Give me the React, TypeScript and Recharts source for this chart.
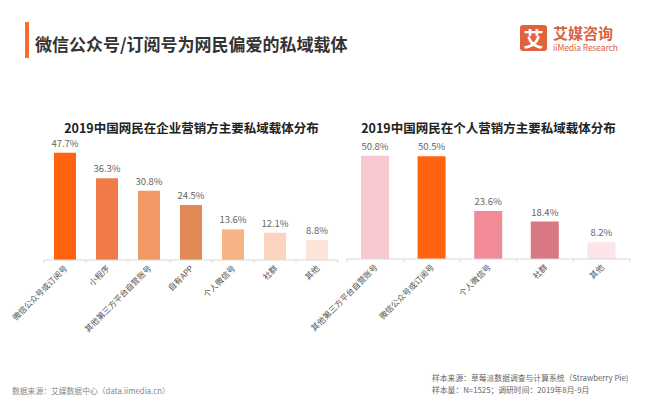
import React from "react";
import { BarChart, Bar, XAxis, YAxis, Cell, LabelList } from "recharts";

const leftCategories = ["微信公众号或订阅号", "小程序", "其他第三方平台自营账号", "自有APP", "个人微信号", "社群", "其他"];
const leftValues = [47.7, 36.3, 30.8, 24.5, 13.6, 12.1, 8.8];
const leftColors = ["#FF630F", "#F07B48", "#F29A66", "#E08A55", "#F7B386", "#FCD3BD", "#FDE4D8"];

const rightCategories = ["其他第三方平台自营账号", "微信公众号或订阅号", "个人微信号", "社群", "其他"];
const rightValues = [50.8, 50.5, 23.6, 18.4, 8.2];
const rightColors = ["#F9C8D0", "#FF630F", "#F28B98", "#D87884", "#FCE4E8"];

const leftData = leftCategories.map((name, i) => ({ name, v: leftValues[i] }));
const rightData = rightCategories.map((name, i) => ({ name, v: rightValues[i] }));

const FONT = '"Noto Sans CJK SC", "Noto Sans", sans-serif';

const makeTick = (bw: number, count: number) => (props: any) => {
  const { x, y, payload, index } = props;
  return (
    <g>
      <line x1={x - bw / 2} x2={x - bw / 2} y1={y} y2={y + 3} stroke="#d9d9d9" />
      {index === count - 1 && (
        <line x1={x + bw / 2} x2={x + bw / 2} y1={y} y2={y + 3} stroke="#d9d9d9" />
      )}
      <text
        x={x + 3}
        y={y + 9}
        textAnchor="end"
        transform={`rotate(-45, ${x + 3}, ${y + 9})`}
        fontSize={8.2}
        fill="#555"
        fontFamily={FONT}
      >
        {payload.value}
      </text>
    </g>
  );
};

const fmt = (v: any) => `${Number(v).toFixed(1)}%`;

export default function App() {
  const lw = 294;
  const rw = 283;
  return (
    <div style={{ position: "absolute", left: 0, top: 0, width: 647, height: 397, background: "#fff", fontFamily: FONT }}>
      <style>{`.recharts-surface{overflow:visible}.recharts-wrapper{overflow:visible}`}</style>
      <div style={{ position: "absolute", left: 44, top: 125 }}>
        <BarChart width={lw} height={205} data={leftData} margin={{ top: 0, right: 0, bottom: 0, left: 0 }} style={{ overflow: "visible" }}>
          <YAxis hide domain={[0, 60]} />
          <XAxis
            dataKey="name"
            interval={0}
            height={70}
            tickLine={false}
            tickSize={0}
            tickMargin={0}
            axisLine={{ stroke: "#d9d9d9" }}
            tick={makeTick(lw / leftData.length, leftData.length)}
          />
          <Bar dataKey="v" barSize={22} isAnimationActive={false}>
            {leftData.map((d, i) => (
              <Cell key={d.name} fill={leftColors[i]} />
            ))}
            <LabelList dataKey="v" position="top" offset={6} formatter={fmt} fontSize={9.5} fill="#666" fontFamily={FONT} />
          </Bar>
        </BarChart>
      </div>
      <div style={{ position: "absolute", left: 347, top: 137 }}>
        <BarChart width={rw} height={192} data={rightData} margin={{ top: 0, right: 0, bottom: 0, left: 0 }} style={{ overflow: "visible" }}>
          <YAxis hide domain={[0, 60]} />
          <XAxis
            dataKey="name"
            interval={0}
            height={70}
            tickLine={false}
            tickSize={0}
            tickMargin={0}
            axisLine={{ stroke: "#d9d9d9" }}
            tick={makeTick(rw / rightData.length, rightData.length)}
          />
          <Bar dataKey="v" barSize={28} isAnimationActive={false}>
            {rightData.map((d, i) => (
              <Cell key={d.name} fill={rightColors[i]} />
            ))}
            <LabelList dataKey="v" position="top" offset={6} formatter={fmt} fontSize={9.5} fill="#666" fontFamily={FONT} />
          </Bar>
        </BarChart>
      </div>
      <svg width={647} height={397} style={{ position: "absolute", left: 0, top: 0, pointerEvents: "none" }} fontFamily={FONT}>
        <rect x={25} y={22} width={4} height={36} fill="#FF6A2E" />
        <text x={35} y={43} dominantBaseline="central" fontSize={17} fontWeight={700} fill="#333">
          微信公众号/订阅号为网民偏爱的私域载体
        </text>
        <rect x={520} y={25} width={27} height={26} rx={3} fill="#E0633E" />
        <text x={533.5} y={38.5} textAnchor="middle" dominantBaseline="central" fontSize={20} fontWeight={700} fill="#fff">
          艾
        </text>
        <text x={553} y={32} dominantBaseline="central" fontSize={15} fontWeight={700} fill="#D9623F">
          艾媒咨询
        </text>
        <text x={553} y={47} dominantBaseline="central" fontSize={8.5} fill="#D9623F" textLength={65}>
          iiMedia Research
        </text>
        <text x={191.5} y={127} textAnchor="middle" dominantBaseline="central" fontSize={12.5} fontWeight={700} fill="#222">
          2019中国网民在企业营销方主要私域载体分布
        </text>
        <text x={488.5} y={127} textAnchor="middle" dominantBaseline="central" fontSize={12.5} fontWeight={700} fill="#222">
          2019中国网民在个人营销方主要私域载体分布
        </text>
        <text x={12} y={390} dominantBaseline="central" fontSize={7.8} fill="#888">
          数据来源：艾媒数据中心（data.iimedia.cn）
        </text>
        <text x={432} y={377} dominantBaseline="central" fontSize={7.8} fill="#666">
          样本来源：草莓派数据调查与计算系统（Strawberry Pie)
        </text>
        <text x={432} y={389} dominantBaseline="central" fontSize={7.8} fill="#666">
          样本量：N=1525；调研时间：2019年8月-9月
        </text>
      </svg>
    </div>
  );
}
